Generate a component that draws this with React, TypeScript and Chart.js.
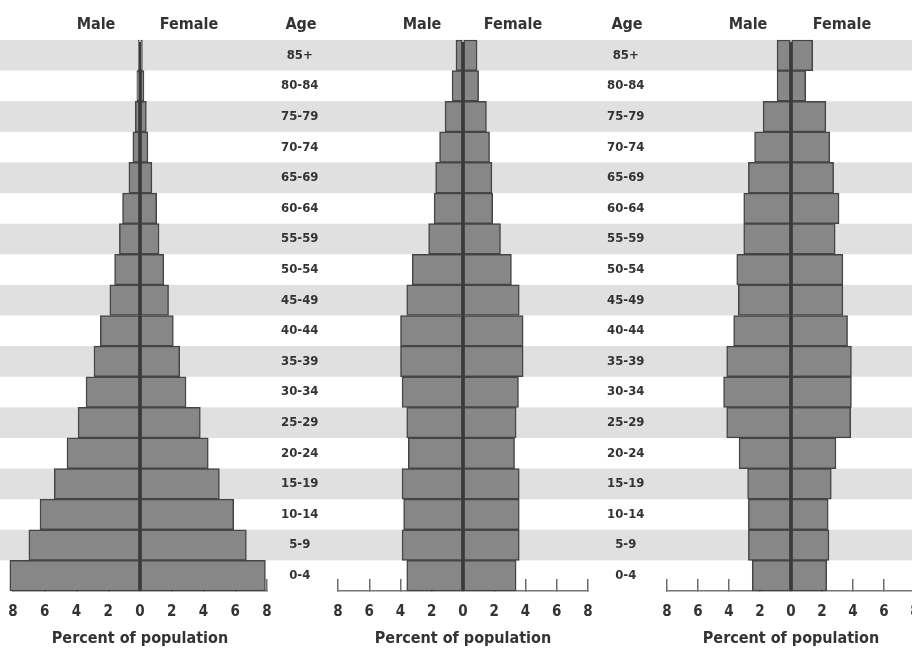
import { useEffect, useRef } from 'react';
import { Chart, registerables } from 'chart.js';

Chart.register(...registerables);

// age groups, youngest first (drawn bottom-up)
const ageGroups = [
  '0-4', '5-9', '10-14', '15-19', '20-24', '25-29', '30-34', '35-39', '40-44',
  '45-49', '50-54', '55-59', '60-64', '65-69', '70-74', '75-79', '80-84', '85+',
];

// percent of population
const maleRapid = [8.2, 7.0, 6.3, 5.4, 4.6, 3.9, 3.4, 2.9, 2.5, 1.9, 1.6, 1.3, 1.1, 0.7, 0.45, 0.3, 0.2, 0.1];
const femaleRapid = [7.9, 6.7, 5.9, 5.0, 4.3, 3.8, 2.9, 2.5, 2.1, 1.8, 1.5, 1.2, 1.05, 0.75, 0.5, 0.4, 0.25, 0.15];

const maleSlow = [3.6, 3.9, 3.8, 3.9, 3.5, 3.6, 3.9, 4.0, 4.0, 3.6, 3.25, 2.2, 1.85, 1.75, 1.5, 1.15, 0.7, 0.45];
const femaleSlow = [3.4, 3.6, 3.6, 3.6, 3.3, 3.4, 3.55, 3.85, 3.85, 3.6, 3.1, 2.4, 1.9, 1.85, 1.7, 1.5, 1.0, 0.9];

const maleDecline = [2.5, 2.75, 2.75, 2.8, 3.35, 4.15, 4.35, 4.15, 3.7, 3.4, 3.5, 3.05, 3.05, 2.75, 2.35, 1.8, 0.9, 0.9];
const femaleDecline = [2.3, 2.45, 2.4, 2.6, 2.9, 3.85, 3.9, 3.9, 3.65, 3.35, 3.35, 2.85, 3.1, 2.75, 2.5, 2.25, 0.95, 1.4];

const FONT = '"Liberation Sans Narrow", "DejaVu Sans Condensed", "Arial Narrow", sans-serif';
const INK = '#333333';
const BAR_FILL = '#878787';
const BAR_EDGE = '#454545';
const BAND = '#e0e0e0';
const HEIGHT = 651;
const PLOT_TOP = 40;
const PLOT_BOTTOM = 591;

// alternating grey stripes behind every other age row, full canvas width
const bandPlugin = {
  id: 'ageBands',
  beforeDraw(chart: any) {
    const { ctx, chartArea, scales } = chart;
    const rowH = (chartArea.bottom - chartArea.top) / ageGroups.length;
    ctx.save();
    ctx.fillStyle = BAND;
    ageGroups.forEach((_, i) => {
      if (i % 2 === 1) {
        const cy = scales.y.getPixelForValue(i);
        ctx.fillRect(0, cy - rowH / 2, chart.width, rowH);
      }
    });
    ctx.restore();
  },
  // dark divider between the male and female halves
  afterDatasetsDraw(chart: any) {
    const { ctx, chartArea, scales } = chart;
    const x0 = scales.x.getPixelForValue(0);
    ctx.save();
    ctx.strokeStyle = '#3a3a3a';
    ctx.lineWidth = 2.5;
    ctx.beginPath();
    ctx.moveTo(x0, chartArea.top + 2);
    ctx.lineTo(x0, chartArea.bottom);
    ctx.stroke();
    ctx.restore();
  },
};

interface PyramidProps {
  male: number[];
  female: number[];
  left: number;
  width: number;
  padLeft: number;
  padRight: number;
  ageAxisWidth: number;
  agePad?: number;
}

function Pyramid({ male, female, left, width, padLeft, padRight, ageAxisWidth, agePad = 0 }: PyramidProps) {
  const canvasRef = useRef<HTMLCanvasElement | null>(null);

  useEffect(() => {
    if (!canvasRef.current) return;
    const bar = {
      backgroundColor: BAR_FILL,
      borderColor: BAR_EDGE,
      borderWidth: 1.5,
      borderSkipped: false as const,
      barPercentage: 1,
      categoryPercentage: 1,
      clip: false as const,
    };
    const chart = new Chart(canvasRef.current, {
      type: 'bar',
      data: {
        labels: ageGroups,
        datasets: [
          { label: 'Male', data: male.map((v) => -v), ...bar },
          { label: 'Female', data: female, ...bar },
        ],
      },
      options: {
        indexAxis: 'y',
        animation: false,
        responsive: false,
        maintainAspectRatio: false,
        layout: {
          autoPadding: false,
          padding: { left: padLeft, right: padRight, top: PLOT_TOP, bottom: 0 },
        },
        plugins: {
          legend: { display: false },
          tooltip: { enabled: false },
        },
        scales: {
          x: {
            type: 'linear',
            min: -8,
            max: 8,
            stacked: true,
            position: 'bottom',
            ticks: {
              stepSize: 2,
              autoSkip: false,
              maxRotation: 0,
              padding: 24,
              color: INK,
              font: { family: FONT, size: 15, weight: 'bold' },
              callback: (v) => Math.abs(Number(v)),
            },
            grid: {
              drawOnChartArea: false,
              drawTicks: true,
              tickLength: -12,
              color: '#6c6c6c',
              lineWidth: 1.5,
            },
            border: { display: true, color: '#747474', width: 1.5 },
            title: {
              display: true,
              text: 'Percent of population',
              color: INK,
              font: { family: FONT, size: 16, weight: 'bold' },
              padding: { top: 0, bottom: 3 },
            },
            afterFit: (s: any) => {
              s.height = HEIGHT - PLOT_BOTTOM;
              s.paddingLeft = 0;
              s.paddingRight = 0;
            },
          },
          y: {
            type: 'category',
            stacked: true,
            reverse: true,
            position: 'right',
            display: ageAxisWidth > 0,
            grid: { display: false, drawTicks: false },
            border: { display: false },
            ticks: {
              crossAlign: 'center',
              padding: agePad,
              color: INK,
              font: { family: FONT, size: 13, weight: 'bold' },
            },
            afterFit: (s: any) => {
              s.width = ageAxisWidth;
              s.paddingTop = 0;
              s.paddingBottom = 0;
            },
          },
        },
      },
      plugins: [bandPlugin],
    });
    return () => chart.destroy();
  }, [male, female, padLeft, padRight, ageAxisWidth, agePad]);

  return (
    <canvas
      ref={canvasRef}
      width={width}
      height={HEIGHT}
      style={{ position: 'absolute', left, top: 0, width, height: HEIGHT }}
    />
  );
}

const headStyle: React.CSSProperties = {
  position: 'absolute',
  top: 14,
  transform: 'translateX(-50%)',
  fontFamily: FONT,
  fontWeight: 'bold',
  fontSize: 16,
  color: INK,
  whiteSpace: 'nowrap',
};

const headers = [
  { text: 'Male', x: 96 },
  { text: 'Female', x: 189 },
  { text: 'Age', x: 301 },
  { text: 'Male', x: 422 },
  { text: 'Female', x: 513 },
  { text: 'Age', x: 627 },
  { text: 'Male', x: 748 },
  { text: 'Female', x: 842 },
];

export default function App() {
  return (
    <div
      style={{
        position: 'fixed',
        left: 0,
        top: 0,
        width: 912,
        height: HEIGHT,
        overflow: 'hidden',
        background: '#ffffff',
      }}
    >
      <Pyramid male={maleRapid} female={femaleRapid} left={0} width={333} padLeft={13} padRight={0} ageAxisWidth={66} agePad={14} />
      <Pyramid male={maleSlow} female={femaleSlow} left={333} width={327} padLeft={5} padRight={0} ageAxisWidth={72} agePad={19} />
      <Pyramid male={maleDecline} female={femaleDecline} left={660} width={260} padLeft={7} padRight={5} ageAxisWidth={0} />
      {headers.map((h, i) => (
        <div key={i} style={{ ...headStyle, left: h.x }}>
          {h.text}
        </div>
      ))}
    </div>
  );
}
